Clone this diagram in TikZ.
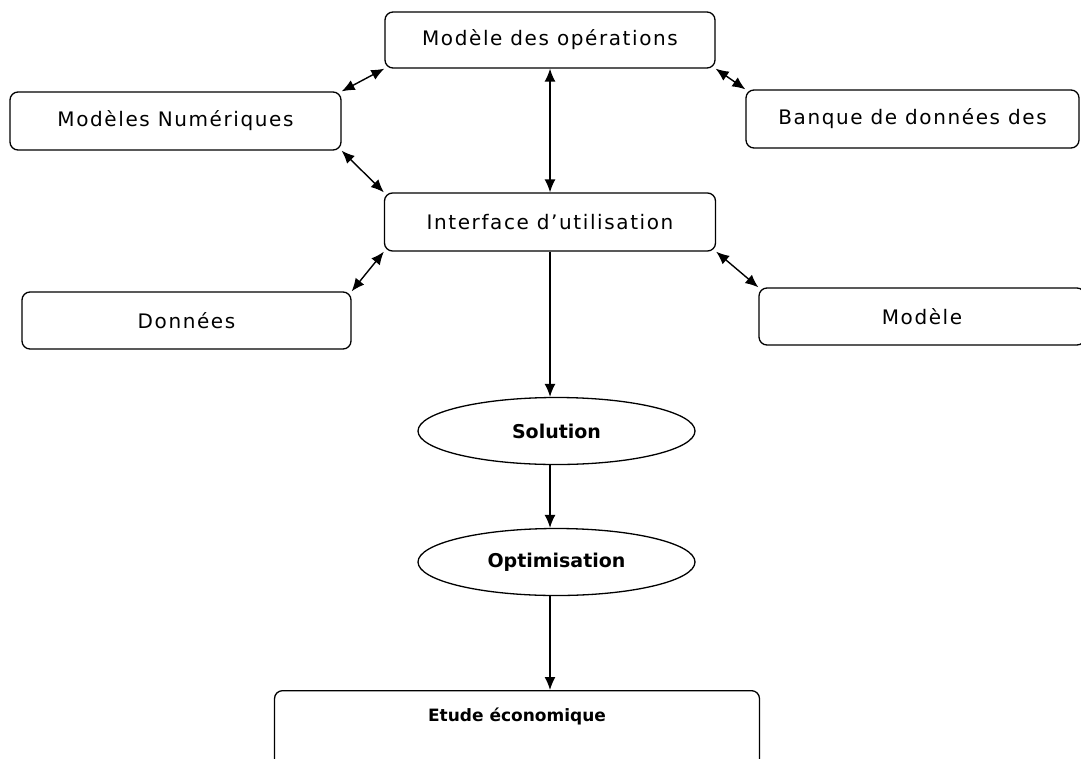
\documentclass[tikz,border=0pt]{standalone}
\usepackage{fontspec}
\setmainfont{DejaVu Sans}
\newfontfamily\boxfont[LetterSpace=8]{DejaVu Sans}
\usetikzlibrary{shapes.geometric,arrows.meta}

\begin{document}
\begin{tikzpicture}[
    x=1pt, y=-1pt,
    box/.style={%
      draw,
      rectangle,
      rounded corners=8pt,
      line width=1.3pt,
      inner sep=0pt,
      font=\boxfont\fontsize{20}{24}\selectfont,
    },
    oval/.style={%
      draw,
      ellipse,
      line width=1.3pt,
      minimum width=277pt,
      minimum height=67pt,
      inner sep=0pt,
      font=\bfseries\fontsize{19}{23}\selectfont,
    },
    link/.style={line width=1.4pt, {Latex[length=13pt,width=11pt]}-{Latex[length=13pt,width=11pt]}},
    flow/.style={line width=1.4pt, -{Latex[length=13pt,width=11pt]}},
  ]

    \clip (0,0) rectangle (1081,758);

    \node [box, minimum width=330pt, minimum height=56pt] (ops) at (550,40) {Modèle des opérations};
    \node [box, minimum width=331pt, minimum height=58pt] (num) at (175.5,121) {Modèles Numériques};
    \node [box, minimum width=333pt, minimum height=58pt] (banque) at (912.5,119) {Banque de données des};
    \node [box, minimum width=331pt, minimum height=58pt] (iface) at (550,222) {Interface d’utilisation};
    \node [box, minimum width=329pt, minimum height=57pt] (donnees) at (186.5,320.5) {Données};
    \node [box, minimum width=326pt, minimum height=57pt] (modele) at (922,316.5) {Modèle};
    \node [oval] (solution) at (556.5,431) {Solution};
    \node [oval] (optim) at (556.5,562) {Optimisation};
    \node [box, anchor=north, minimum width=485pt, inner ysep=8pt,
      text height=23pt, text depth=60pt,
      font=\bfseries\fontsize{17}{20}\selectfont] (etude) at (517,690) {Etude économique};

    \draw [link] (ops.south west) -- (num.north east);
    \draw [link] (num.south east) -- (iface.north west);
    \draw [link] (ops.south east) -- (banque.north west);
    \draw [link] (ops.south) -- (iface.north);
    \draw [link] (iface.south west) -- (donnees.north east);
    \draw [link] (iface.south east) -- (modele.north west);
    \draw [flow] (iface.south) -- (iface.south |- solution.north);
    \draw [flow] (solution.south -| iface.south) -- (iface.south |- optim.north);
    \draw [flow] (optim.south -| iface.south) -- (iface.south |- etude.north);
\end{tikzpicture}
\end{document}
